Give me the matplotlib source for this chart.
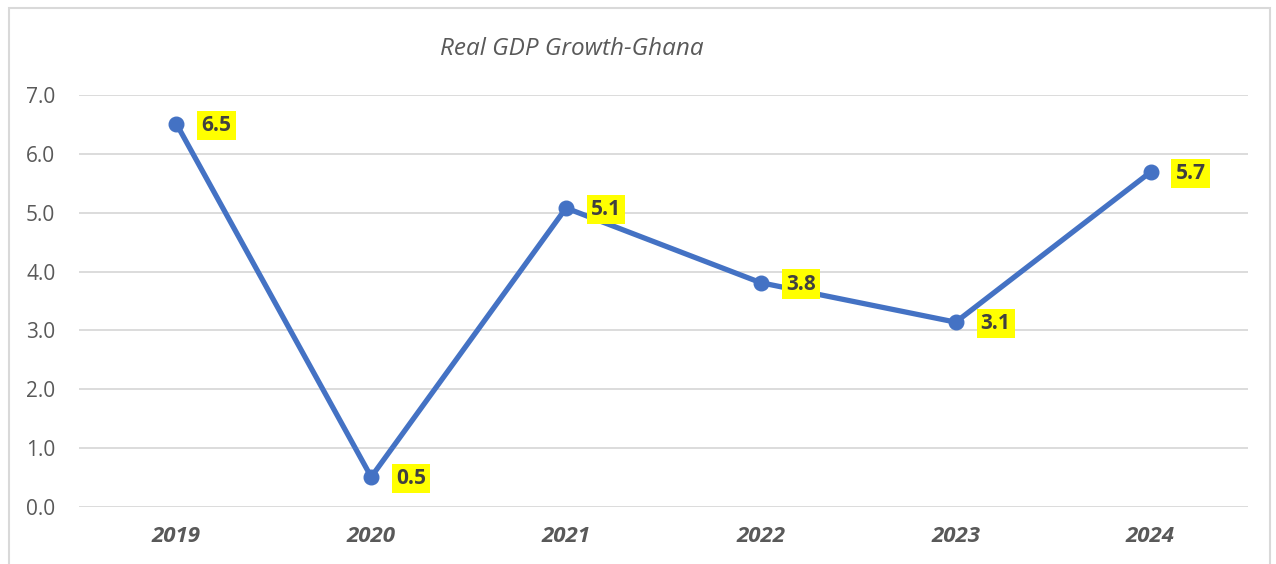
import matplotlib
matplotlib.use("Agg")
import matplotlib.pyplot as plt
from matplotlib.patches import Rectangle

years = ["2019", "2020", "2021", "2022", "2023", "2024"]
growth = [6.51, 0.51, 5.08, 3.81, 3.14, 5.69]
y_ticks = [0.0, 1.0, 2.0, 3.0, 4.0, 5.0, 6.0, 7.0]
title = "Real GDP Growth-Ghana"

plt.rcParams["font.family"] = ["Open Sans", "DejaVu Sans"]

fig = plt.figure(figsize=(12.76, 5.64), dpi=100)
fig.patches.append(Rectangle((0.007, -0.01), 0.988, 0.995, transform=fig.transFigure,
                             fill=False, edgecolor="#D9D9D9", linewidth=1.5))

ax = fig.add_axes([0.0619, 0.1011, 0.9161, 0.7305])
x = list(range(len(years)))
ax.plot(x, growth, color="#4472C4", linewidth=3.8, marker="o", markersize=10.5,
        solid_capstyle="round", zorder=3)

for xi, v in zip(x, growth):
    ax.annotate(f"{v:.1f}", (xi, v), xytext=(18, -1), textcoords="offset points",
                ha="left", va="center", fontsize=15, fontweight="bold", color="#404040",
                bbox=dict(boxstyle="square,pad=0.2", facecolor="#FFFF00", edgecolor="none"),
                zorder=4)

ax.set_xlim(-0.5, len(years) - 0.5)
ax.set_ylim(0, 7)
ax.set_yticks(y_ticks)
ax.set_yticklabels([f"{t:.1f}" for t in y_ticks], fontsize=15)
ax.set_xticks(x)
ax.set_xticklabels(years, fontweight="bold", fontstyle="italic", fontsize=16)
ax.tick_params(axis="both", length=0, colors="#595959")
ax.tick_params(axis="x", pad=14)
ax.tick_params(axis="y", pad=17)
ax.grid(axis="y", color="#D9D9D9", linewidth=1.3)
ax.set_axisbelow(True)
for s in ax.spines.values():
    s.set_visible(False)

fig.text(0.448, 0.913, title, ha="center", va="center", fontsize=17.5,
         fontstyle="italic", color="#595959")

fig.savefig("out.png", dpi=100)
